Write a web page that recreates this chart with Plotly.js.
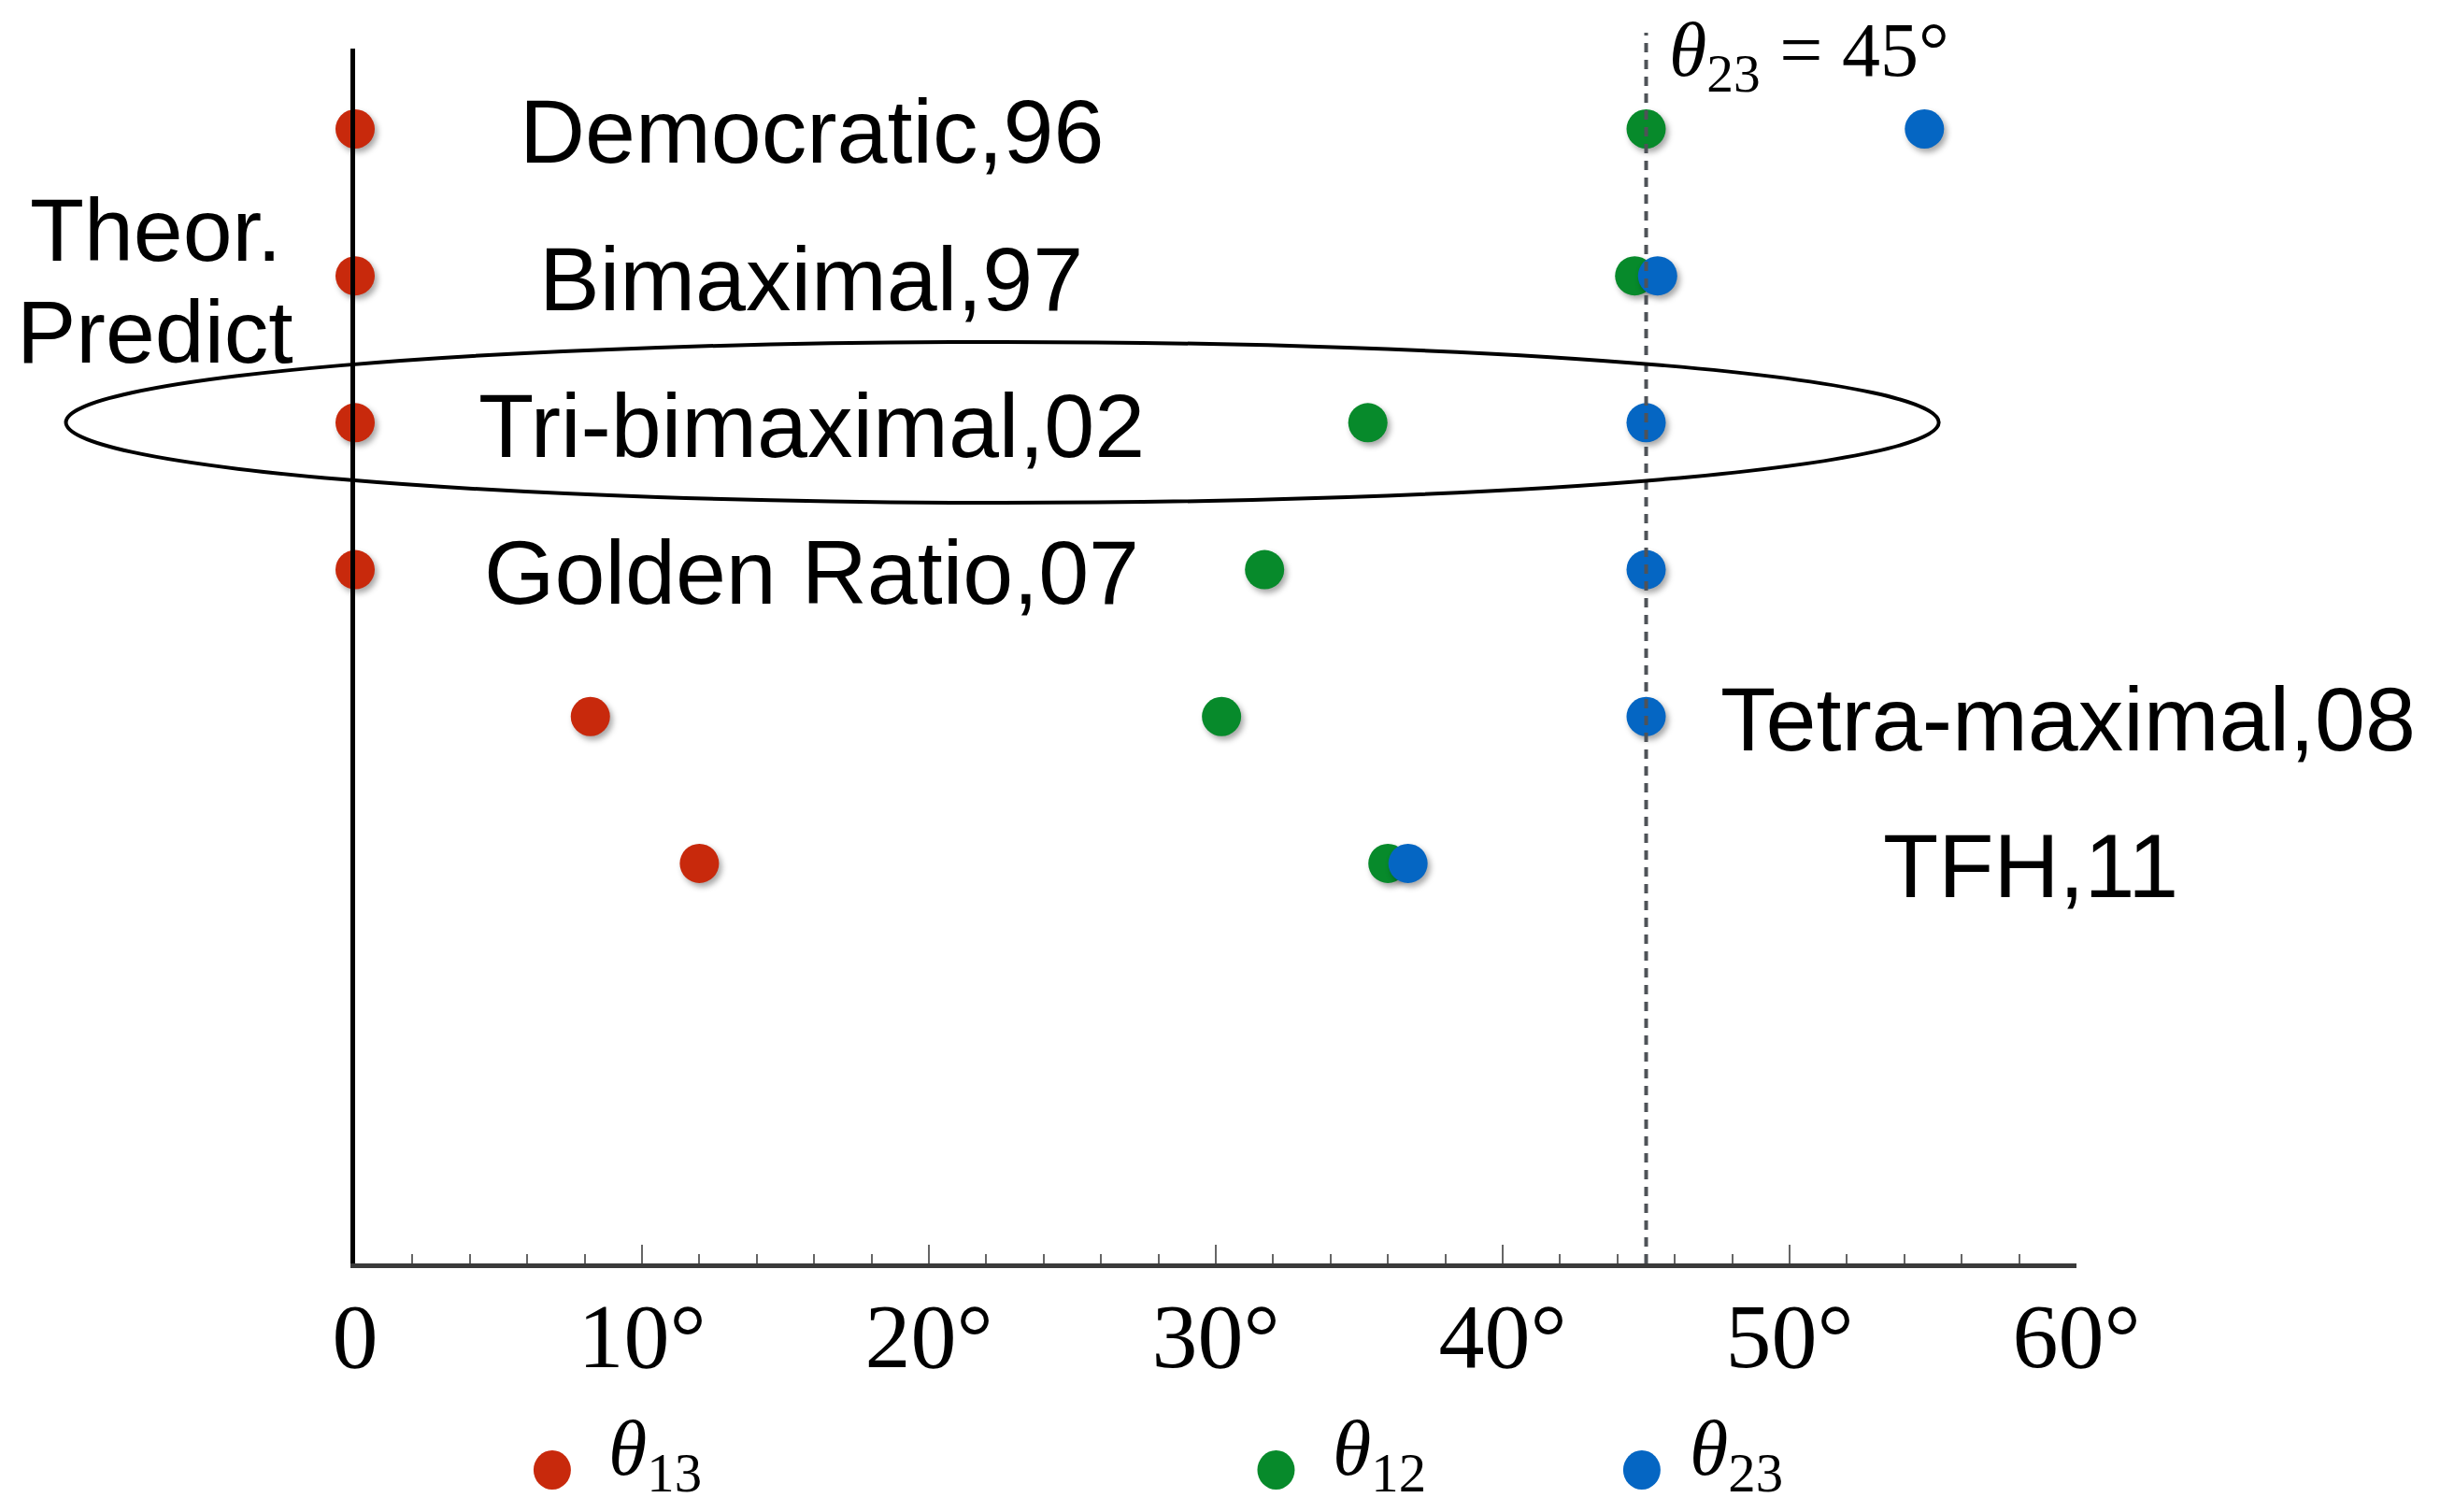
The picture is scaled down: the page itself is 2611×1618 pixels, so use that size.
<!DOCTYPE html>
<html>
<head>
<meta charset="utf-8">
<script src="https://cdn.plot.ly/plotly-3.0.1.min.js"></script>
<style>
  html, body { margin: 0; padding: 0; background: #fff; }
  #chart { width: 2611px; height: 1618px; }
  #chart .scatterlayer .point { filter: drop-shadow(3px 4px 3px rgba(0,0,0,0.35)); }
</style>
</head>
<body>
<div id="chart"></div>
<script>
// ---- data ----
const rows = ["Democratic,96", "Bimaximal,97", "Tri-bimaximal,02", "Golden Ratio,07", "Tetra-maximal,08", "TFH,11"];
const theta13 = [0, 0, 0, 0, 8.2, 12.0];
const theta12 = [45.0, 44.6, 35.3, 31.7, 30.2, 36.0];
const theta23 = [54.7, 45.4, 45.0, 45.0, 45.0, 36.7];
const tickVals = [0, 10, 20, 30, 40, 50, 60];
const tickText = ["0", "10°", "20°", "30°", "40°", "50°", "60°"];
const refAngle = 45;

// ---- styling ----
const RED = "#C8290C", GREEN = "#078A2B", BLUE = "#0566C3";
const SANS = "Liberation Sans, Arial, sans-serif";
const SERIF = "Liberation Serif, Times New Roman, serif";
const labelX = [15.9, 15.9, 15.9, 15.9, 59.7, 58.4];

function series(x, color, name) {
  return {
    type: "scatter", mode: "markers", name: name,
    x: x, y: rows, cliponaxis: false,
    marker: { size: 42, color: color, line: { width: 0 } },
    showlegend: false, hoverinfo: "x+y+name"
  };
}
const traces = [
  series(theta13, RED, "θ13"),
  series(theta12, GREEN, "θ12"),
  series(theta23, BLUE, "θ23")
];

const annotations = rows.map((r, i) => ({
  x: labelX[i], y: r, xref: "x", yref: "y",
  text: r, showarrow: false, xanchor: "center", yanchor: "middle", yshift: -3,
  font: { family: SANS, size: 97, color: "#000" }
}));
annotations.push(
  { x: -0.116, y: 0.851, xref: "paper", yref: "paper", text: "Theor.", showarrow: false,
    xanchor: "center", yanchor: "middle", font: { family: SANS, size: 95, color: "#000" } },
  { x: -0.116, y: 0.767, xref: "paper", yref: "paper", text: "Predict", showarrow: false,
    xanchor: "center", yanchor: "middle", font: { family: SANS, size: 95, color: "#000" } },
  { x: 0.762, y: 0.995, xref: "paper", yref: "paper", text: "<i>θ</i><sub>23</sub> = 45°",
    showarrow: false, xanchor: "left", yanchor: "middle", font: { family: SERIF, size: 82, color: "#000" } }
);

// manual legend
const legendItems = [
  { name: "<i>θ</i><sub>13</sub>", color: RED, dot: 0.1145, txt: 0.146 },
  { name: "<i>θ</i><sub>12</sub>", color: GREEN, dot: 0.535, txt: 0.567 },
  { name: "<i>θ</i><sub>23</sub>", color: BLUE, dot: 0.7475, txt: 0.774 }
];
const legY = -0.170;
const shapes = [
  // dashed reference line at 45°
  { type: "line", xref: "x", yref: "paper", x0: refAngle, x1: refAngle, y0: 0, y1: 1.013,
    line: { color: "#4f5358", width: 4, dash: "10px,8px" } },
  // ellipse around Tri-bimaximal
  { type: "circle", xref: "paper", yref: "y", x0: -0.168, x1: 0.920, y0: 1.45, y1: 2.545,
    line: { color: "#000", width: 4 }, fillcolor: "rgba(0,0,0,0)" }
];
legendItems.forEach(it => {
  shapes.push({ type: "circle", xref: "paper", yref: "paper", xsizemode: "pixel", ysizemode: "pixel",
    xanchor: it.dot, yanchor: legY, x0: -20, x1: 20, y0: -21, y1: 21,
    fillcolor: it.color, line: { width: 0 } });
  annotations.push({ x: it.txt, y: legY + 0.013, xref: "paper", yref: "paper", text: it.name,
    showarrow: false, xanchor: "left", yanchor: "middle", font: { family: SERIF, size: 84, color: "#000" } });
});

const layout = {
  width: 2611, height: 1618,
  margin: { l: 380, r: 389, t: 52, b: 266 },
  paper_bgcolor: "#fff", plot_bgcolor: "#fff",
  showlegend: false,
  xaxis: {
    range: [0, 60], showgrid: false, zeroline: false,
    showline: true, linecolor: "#3a3a3a", linewidth: 5,
    tickmode: "array", tickvals: tickVals, ticktext: tickText,
    ticks: "inside", ticklen: 20, tickwidth: 2, tickcolor: "#666",
    minor: { dtick: 2, tick0: 0, ticks: "inside", ticklen: 10, tickwidth: 2, tickcolor: "#666", showgrid: false },
    ticklabelstandoff: -12,
    tickfont: { family: SERIF, size: 98, color: "#000" }
  },
  yaxis: {
    type: "category", range: [7.723, -0.547],
    showgrid: false, zeroline: false, showticklabels: false, ticks: "",
    showline: true, linecolor: "#000", linewidth: 5
  },
  shapes: shapes,
  annotations: annotations
};

Plotly.newPlot("chart", traces, layout, { displayModeBar: false, staticPlot: true });
</script>
</body>
</html>
